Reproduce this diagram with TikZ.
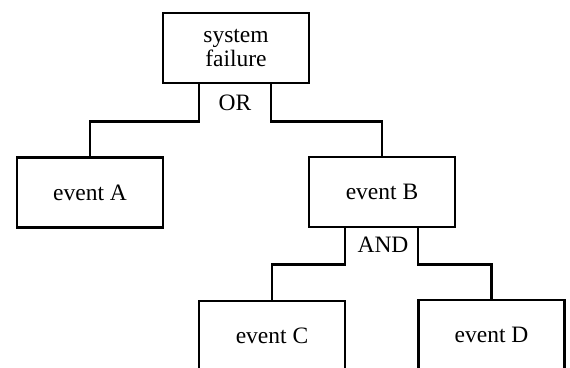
\documentclass[tikz,border=0pt]{standalone}
\usepackage{fontspec}
\setmainfont{Liberation Serif}
\begin{document}
\begin{tikzpicture}[x=1pt,y=-1pt,
  evbox/.style={draw,line width=2.6pt,minimum width=146pt,minimum height=70pt,inner sep=0pt,align=center,font=\fontsize{23.5}{24}\selectfont},
  gatelabel/.style={inner sep=0pt,font=\fontsize{23.5}{24}\selectfont},
  conn/.style={line width=2.6pt}]
\useasboundingbox (0,0) rectangle (570,367);
\clip (0,0) rectangle (570,367);
\fill[white] (0,0) rectangle (570,367);
\node[evbox] (top) at (236,48) {system\\failure};
\node[evbox] (A) at (90,192.5) {event A};
\node[evbox] (B) at (382,192) {event B};
\node[evbox] (C) at (272,336) {event C};
\node[evbox] (D) at (491.5,335) {event D};
\node[gatelabel] (or) at (235,103) {OR};
\node[gatelabel] (and) at (383,245) {AND};
\draw[conn] ([xshift=-37pt]top.south) -- ++(0,37) -| (A.north);
\draw[conn] ([xshift=35pt]top.south) -- ++(0,37) -| (B.north);
\draw[conn] ([xshift=-37pt]B.south) -- ++(0,36) -| (C.north);
\draw[conn] ([xshift=36pt]B.south) -- ++(0,36) -| (D.north);
\end{tikzpicture}
\end{document}
